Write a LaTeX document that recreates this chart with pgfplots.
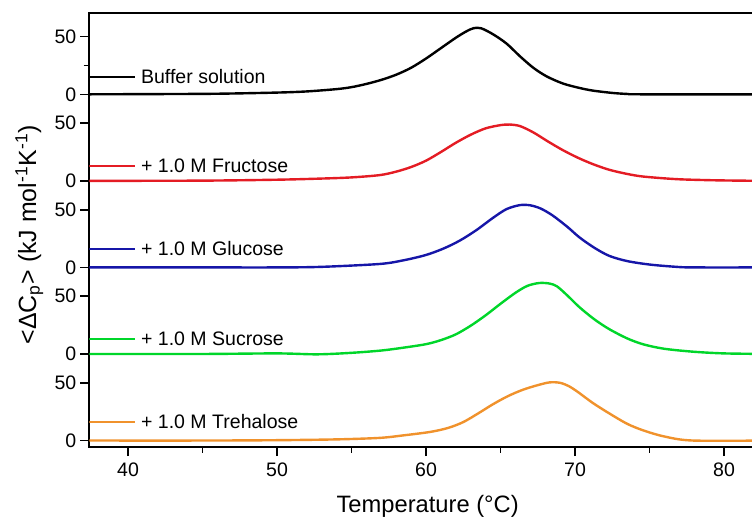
\documentclass[border=0pt]{standalone}
\usepackage{fontspec}
\setmainfont{Liberation Sans}
\usepackage{pgfplots}
\usepackage{pgfplotstable}
\pgfplotsset{compat=1.18}
\definecolor{cred}{RGB}{228,28,36}
\definecolor{cblue}{RGB}{22,22,168}
\definecolor{cgreen}{RGB}{0,214,42}
\definecolor{corange}{RGB}{240,146,44}
\pgfplotstableread{
T v
37.4 0
42 0.2
46 0.5
50 1.5
52 2.5
54 4.5
55 6.2
56 9
57 12.5
58 17
59 23
60 31
61 40
62 49
62.7 54.5
63.2 57.3
63.7 57.2
64.5 52
65.4 44
66.3 33
67.2 23
68.1 15.5
69.2 9.3
70.3 5.5
71.2 3.2
72.5 1.2
73.5 0.3
74.5 0
83 0
}\buffer
\pgfplotstableread{
T v
37.4 0
45 0.2
50 1
53 2
55 3
56.9 5
58 8
59 12
60 17.5
61 25
62 33
63 40
64 45.5
65 48.3
65.6 48.8
66.3 47.5
67.2 42
68.2 34
69.2 26.5
70.2 20
71.2 14.5
72.3 9.6
73.5 6
74.6 3.7
76.8 1.5
79 0.6
81 0.2
83 0
}\fructose
\pgfplotstableread{
T v
37.4 0
45 0
50 0
53 0.5
56.9 3
58.5 6.2
60 10.8
61.2 16.5
62.3 23.5
63.4 32.5
64.5 43
65.4 50.5
66.3 54
67 53.8
67.7 51
68.5 45
69.5 35
70.3 26
71.3 17
72.3 10
73.5 5.5
75 2.5
76.8 0.5
78 0
83 0
}\glucose
\pgfplotstableread{
T v
37.4 0
45 0
50 0.5
52.7 -0.3
55 1
57 3
58.5 5.5
60 8.5
61 12
62 17
63 24.5
64 33.5
65 43.5
66 53
66.8 59
67.6 61.5
68.3 61
68.8 58.5
69.5 50.5
70.3 40.5
71.3 30
72.3 21.5
73.5 13.5
74.6 8.3
76 4.5
77.9 2
80 0.5
83 0
}\sucrose
\pgfplotstableread{
T v
37.4 0
45 0
50 0.3
54 1
56.9 2.3
58.5 4.5
60.3 7.5
61.5 11
62.5 16
63.5 23.5
64.5 31.5
65.5 38.5
66.5 44
67.5 48
68.3 50.4
69 50
69.6 47
70.2 42
71.2 32.5
72.3 23.5
73.5 14.5
74.6 8.7
76 3.5
77.9 0
83 0
}\trehalose
\begin{document}
\begin{tikzpicture}
\useasboundingbox (-44.65bp,-35.65bp) rectangle (331.35bp,223.5bp);
\clip (-44.65bp,-35.65bp) rectangle (331.35bp,223.5bp);
\begin{axis}[
  scale only axis,
  width=339.7bp, height=216.85bp,
  xmin=37.4, xmax=83,
  ymin=-5.6, ymax=370.2,
  axis line style={line width=1bp},
  tick style={line width=0.8bp, black},
  tick align=outside,
  major tick length=4.5bp,
  minor tick length=2.8bp,
  xtick pos=bottom, ytick pos=left,
  xtick={40,50,60,70,80},
  minor xtick={45,55,65,75},
  ytick={0,50,75,125,150,200,225,275,300,350},
  yticklabels={0,50,0,50,0,50,0,50,0,50},
  minor ytick={325},
  /pgf/number format/assume math mode=true,
  ticklabel style={font=\fontsize{9.8}{11}\selectfont},
  yticklabel style={xshift=1.5bp},
  xlabel={Temperature (°C)},
  ylabel={<ΔC\textsubscript{p}> (kJ mol\textsuperscript{-1}K\textsuperscript{-1})},
  xlabel style={font=\fontsize{11.9}{14}\selectfont, at={(rel axis cs:0.498,0)}, anchor=base, yshift=-32.5bp},
  ylabel style={font=\fontsize{12.5}{14}\selectfont, at={(rel axis cs:0,0.49)}, anchor=center, yshift=30bp},
  every axis plot/.append style={line width=1.2bp, smooth, tension=0.5},
  clip=true,
]
\addplot[black] table[x=T, y expr=\thisrow{v}+300] {\buffer};
\addplot[cred] table[x=T, y expr=\thisrow{v}+225] {\fructose};
\addplot[cblue] table[x=T, y expr=\thisrow{v}+150] {\glucose};
\addplot[cgreen] table[x=T, y expr=\thisrow{v}+75] {\sucrose};
\addplot[corange] table[x=T, y expr=\thisrow{v}] {\trehalose};
\addplot[black, sharp plot] coordinates {(37.4,315) (40.5,315)};
\addplot[cred, sharp plot] coordinates {(37.4,238) (40.5,238)};
\addplot[cblue, sharp plot] coordinates {(37.4,166) (40.5,166)};
\addplot[cgreen, sharp plot] coordinates {(37.4,88) (40.5,88)};
\addplot[corange, sharp plot] coordinates {(37.4,16) (40.5,16)};
\begin{scope}[every node/.style={anchor=west, inner sep=0pt, font=\fontsize{9.8}{11}\selectfont}]
\node at (axis cs:40.85,315.5) {Buffer solution};
\node at (axis cs:40.85,238.5) {+ 1.0 M Fructose};
\node at (axis cs:40.85,166.5) {+ 1.0 M Glucose};
\node at (axis cs:40.85,88.5) {+ 1.0 M Sucrose};
\node at (axis cs:40.85,16.5) {+ 1.0 M Trehalose};
\end{scope}
\end{axis}
\end{tikzpicture}
\end{document}
